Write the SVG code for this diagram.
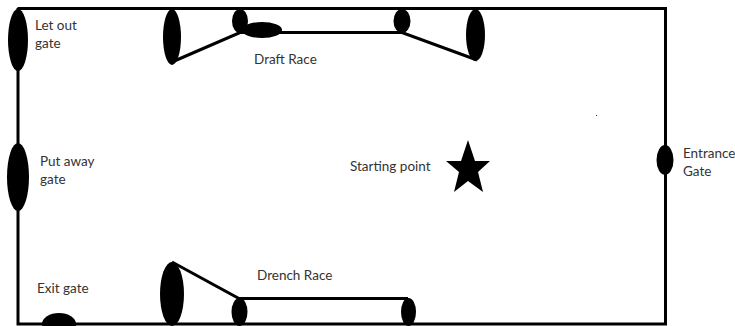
<svg xmlns="http://www.w3.org/2000/svg" width="735" height="326" viewBox="0 0 735 326">
<style>
.l{fill:none;stroke:#000;stroke-width:3}
.g{fill:#000}
text{font-family:"Lato","Open Sans","Liberation Sans",sans-serif;font-size:13.500px;fill:#333}
</style>
<rect width="735" height="326" fill="#fff"/>
<g id="connectors">
<path class="l" d="M17.500 8.500H665.500V324H18V8"/>
<path class="l" d="M172 62L240 32.500H402L477 60"/>
<path class="l" d="M172 262L239 298.500H408"/>
</g>
<g id="let-out-gate"><ellipse class="g" cx="18" cy="40" rx="10" ry="31"/><text x="35" y="30">Let out</text><text x="35" y="48">gate</text></g>
<g id="put-away-gate"><ellipse class="g" cx="18" cy="177" rx="11" ry="34"/><text x="40" y="166">Put away</text><text x="40" y="184">gate</text></g>
<g id="exit-gate"><ellipse class="g" cx="59" cy="324" rx="17" ry="11"/><text x="37" y="293">Exit gate</text></g>
<g id="draft-race"><ellipse class="g" cx="172" cy="37" rx="9" ry="28"/><ellipse class="g" cx="240" cy="21" rx="8" ry="12"/><ellipse class="g" cx="262" cy="30" rx="20" ry="8"/><ellipse class="g" cx="402" cy="21" rx="8.500" ry="12"/><ellipse class="g" cx="475.500" cy="35" rx="9.500" ry="26"/><text x="254" y="64">Draft Race</text></g>
<g id="drench-race"><ellipse class="g" cx="172" cy="294" rx="12" ry="32"/><ellipse class="g" cx="239.500" cy="312" rx="8" ry="14"/><ellipse class="g" cx="408.500" cy="312" rx="7.500" ry="14"/><text x="257" y="280">Drench Race</text></g>
<g id="starting-point"><polygon class="g" points="468,140 475,161 490,161 478,172 483,192 468,181 454,192 459,172 446,161 461,161"/><text x="350" y="171">Starting point</text></g>
<g id="entrance-gate"><ellipse class="g" cx="665" cy="160" rx="8.500" ry="15"/><text x="683" y="158">Entrance</text><text x="683" y="176">Gate</text></g>
<rect x="596" y="115" width="1" height="1" fill="#333"/>
</svg>
